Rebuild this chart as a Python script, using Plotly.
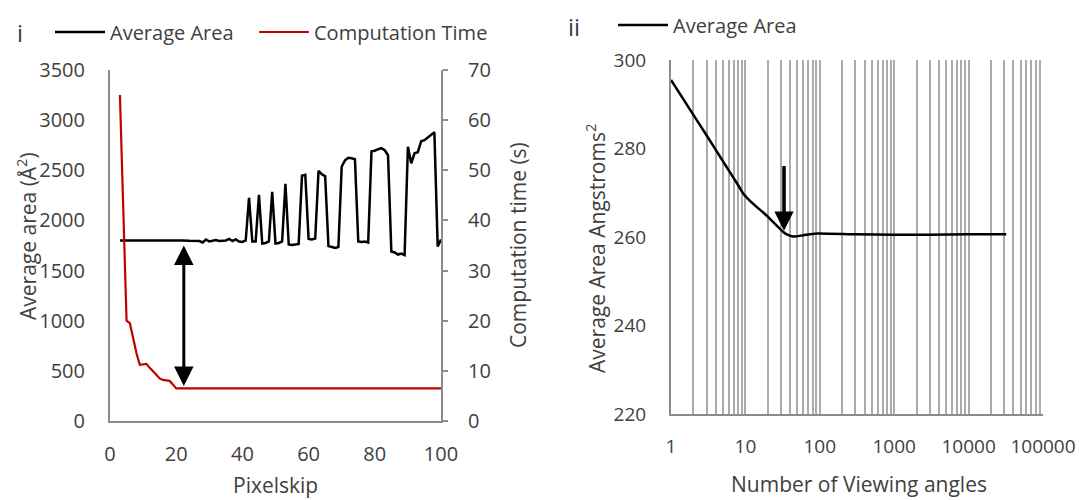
import plotly.graph_objects as go

# ---------------- Panel i data ----------------
pixelskip_area = [3, 5, 8, 10, 12, 14, 16, 18, 20, 22, 24, 26, 27, 28, 29, 30, 31, 32, 33, 34,
                  35, 36, 37, 38, 39, 40, 41, 42, 43, 44, 45, 46, 47, 48, 49, 50, 51, 52, 53, 54,
                  55, 56, 57, 58, 59, 60, 61, 62, 63, 64, 65, 66, 67, 68, 69, 70, 71, 72, 73, 74,
                  75, 76, 77, 78, 79, 80, 81, 82, 83, 84, 85, 86, 87, 88, 89, 90, 91, 92, 93, 94,
                  95, 96, 97, 98, 99, 100]
average_area = [1800, 1800, 1805, 1800, 1803, 1798, 1802, 1800, 1805, 1800, 1797, 1800, 1795, 1780, 1810, 1790, 1795, 1805, 1795, 1800,
                1800, 1815, 1795, 1810, 1790, 1785, 1800, 2225, 1790, 1790, 2255, 1770, 1775, 1790, 2285, 1770, 1775, 1790, 2365, 1760,
                1755, 1760, 1765, 2445, 2455, 1815, 1810, 1820, 2495, 2460, 2440, 1745, 1735, 1725, 1735, 2535, 2600, 2625, 2620, 2610,
                1790, 1785, 1790, 1780, 2690, 2695, 2710, 2720, 2700, 2650, 1690, 1680, 1660, 1670, 1655, 2735, 2570, 2670, 2680, 2790,
                2800, 2830, 2850, 2880, 1740, 1810]

pixelskip_time = [3, 5, 6, 7, 8, 9, 10, 11, 12, 13, 14, 15, 16, 17, 18, 19, 20, 100]
computation_time = [65, 20, 19.5, 16.5, 13.5, 11.2, 11.3, 11.4, 10.6, 10.0, 9.2, 8.5, 8.2, 8.1, 8.0, 7.3, 6.5, 6.5]

# ---------------- Panel ii data ----------------
viewing_angles = [1, 2, 3, 4, 5, 6, 8, 9.4, 12, 20, 32, 36, 44, 60, 90, 300, 1000, 3000, 10000, 32000]
average_area_ii = [295.5, 287.6, 283.0, 279.7, 277.1, 275.0, 271.7, 269.8, 267.9, 264.6, 261.2, 260.6, 260.1, 260.4, 260.8, 260.6, 260.5, 260.5, 260.6, 260.6]

left_y_ticks = [0, 500, 1000, 1500, 2000, 2500, 3000, 3500]
right_y_ticks = [0, 10, 20, 30, 40, 50, 60, 70]
x_ticks_i = [0, 20, 40, 60, 80, 100]
ii_y_ticks = [220, 240, 260, 280, 300]
decade_ticks = [1, 10, 100, 1000, 10000, 100000]

FONT = "Open Sans"
TXT = "#404040"
AX = "#8c8c8c"
GRID = "#ababab"
W, H = 1079, 500

fig = go.Figure()

fig.add_trace(go.Scatter(x=pixelskip_area, y=average_area, mode="lines", name="Average Area",
                         line=dict(color="black", width=2.5), xaxis="x", yaxis="y", legend="legend"))
fig.add_trace(go.Scatter(x=pixelskip_time, y=computation_time, mode="lines", name="Computation Time",
                         line=dict(color="#c00000", width=2.2), xaxis="x", yaxis="y2", legend="legend3"))
fig.add_trace(go.Scatter(x=viewing_angles, y=average_area_ii, mode="lines", name="Average Area",
                         line=dict(color="black", width=2.5, shape="spline", smoothing=0.6),
                         xaxis="x2", yaxis="y3", legend="legend2"))

def px_x(p):
    return p / W

def px_y(p):
    return 1 - p / H

tick_font_i = dict(family=FONT, size=20, color=TXT)
tick_font_ii = dict(family=FONT, size=19, color=TXT)
title_font = dict(family=FONT, size=21, color=TXT)
legend_font = dict(family=FONT, size=20, color=TXT)

def legend_at(x, y):
    return dict(orientation="h", x=px_x(x), y=px_y(y), xanchor="left", yanchor="middle",
                font=legend_font, itemwidth=50, bgcolor="rgba(0,0,0,0)")

fig.update_layout(
    width=W, height=H,
    margin=dict(l=0, r=0, t=0, b=0, autoexpand=False),
    paper_bgcolor="white", plot_bgcolor="white",
    font=dict(family=FONT, size=20, color=TXT),
    xaxis=dict(domain=[px_x(110), px_x(441)], range=[0, 100], tickvals=x_ticks_i,
               showgrid=False, zeroline=False, showline=True, linecolor=AX, linewidth=2,
               ticks="", ticklabelstandoff=14, tickfont=tick_font_i, anchor="y",
               automargin=False, ticklabeloverflow="allow"),
    yaxis=dict(domain=[px_y(421), px_y(70)], range=[0, 3500], tickvals=left_y_ticks,
               showgrid=False, zeroline=False, showline=True, linecolor=AX, linewidth=2,
               ticks="", ticklabelstandoff=19, tickfont=tick_font_i, anchor="x",
               automargin=False, ticklabeloverflow="allow"),
    yaxis2=dict(range=[0, 70], tickvals=right_y_ticks, overlaying="y", side="right", anchor="x",
                showgrid=False, zeroline=False, showline=True, linecolor=AX, linewidth=2,
                ticks="outside", ticklen=5, tickcolor=AX, tickwidth=1.5,
                ticklabelstandoff=16, tickfont=tick_font_i, automargin=False,
                ticklabeloverflow="allow"),
    xaxis2=dict(domain=[px_x(671), px_x(1043)], type="log", range=[0, 5],
                tickvals=decade_ticks, ticktext=[str(v) for v in decade_ticks],
                showgrid=True, gridcolor=GRID, gridwidth=1.5,
                minor=dict(dtick="D1", showgrid=True, gridcolor=GRID, gridwidth=1.5, ticks=""),
                zeroline=False, showline=True, linecolor=AX, linewidth=2,
                ticks="", ticklabelstandoff=14, tickfont=tick_font_ii, anchor="y3",
                automargin=False, ticklabeloverflow="allow"),
    yaxis3=dict(domain=[px_y(414), px_y(60)], range=[220, 300], tickvals=ii_y_ticks,
                showgrid=False, zeroline=False, showline=True, linecolor=AX, linewidth=2,
                ticks="", ticklabelstandoff=19, tickfont=tick_font_ii, anchor="x2",
                automargin=False, ticklabeloverflow="allow"),
    legend=legend_at(50, 32),
    legend3=legend_at(254, 32),
    legend2=legend_at(613, 25),
    showlegend=True,
)

def label(text, x, y, font, angle=0):
    return dict(text=text, x=px_x(x), y=px_y(y), xref="paper", yref="paper",
                xanchor="center", yanchor="middle", showarrow=False,
                textangle=angle, font=font)

annotations = [
    # panel labels
    label("i", 20, 32, dict(family=FONT, size=24, color=TXT)),
    label("ii", 574, 26, dict(family=FONT, size=24, color=TXT)),
    # axis titles
    label("Average area (Å<sup>2</sup>)", 26, 236, title_font, -90),
    label("Computation time (s)", 518, 245, title_font, -90),
    label("Pixelskip", 275, 485, title_font),
    label("Average Area Angstroms<sup>2</sup>", 595, 249, title_font, -90),
    label("Number of Viewing angles", 859, 484, title_font),
    # double arrow in panel i
    dict(x=22.3, y=350, ax=22.3, ay=1765, xref="x", yref="y", axref="x", ayref="y",
         showarrow=True, arrowhead=2, startarrowhead=2, arrowside="end+start",
         arrowwidth=3, arrowsize=1.3, startarrowsize=1.3, arrowcolor="black", text=""),
    # down arrow in panel ii
    dict(x=1.519, y=261.4, ax=1.519, ay=276.4, xref="x2", yref="y3", axref="x2", ayref="y3",
         showarrow=True, arrowhead=2, arrowwidth=3.5, arrowsize=1.1, arrowcolor="black", text=""),
]
fig.update_layout(annotations=annotations)

fig.write_html("out.html")
